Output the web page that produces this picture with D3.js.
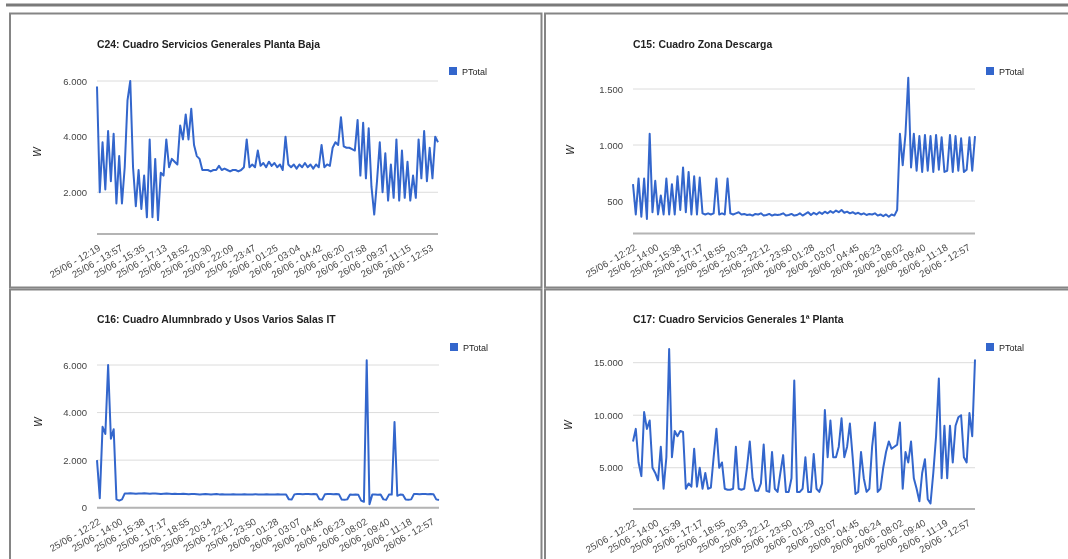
<!DOCTYPE html>
<html>
<head>
<meta charset="utf-8">
<script src="https://cdnjs.cloudflare.com/ajax/libs/d3/7.8.5/d3.min.js"></script>
<style>
body { margin: 0; background: #fff; }
svg { will-change: transform; }
svg text { font-family: "Liberation Sans", Arial, sans-serif; }
</style>
</head>
<body>
<div id="charts"></div>
<script>
// C24 - one point every ~12 min, labels every 8 points
var c24Values = [
  5800, 2000, 3800, 2100, 4200, 2400, 4100, 1600, 3300, 1600,
  2900, 5300, 6000, 2900, 1500, 2800, 1400, 2600, 1100, 3900,
  1100, 3200, 1000, 2700, 2600, 3900, 2900, 3200, 3100, 3000,
  4400, 3900, 4800, 3900, 5000, 3700, 3300, 3200, 2800, 2800,
  2800, 2750, 2800, 2800, 2950, 2800, 2850, 2800, 2750, 2800,
  2800, 2750, 2800, 2900, 3900, 2900, 3000, 2900, 3500, 2950,
  3050, 2900, 3100, 2950, 3050, 2900, 3000, 2800, 4000, 3000,
  2900, 3000, 2850, 3000, 2900, 3050, 2900, 3000, 2850, 3000,
  2900, 3700, 2900, 3000, 2950, 3600, 3800, 3700, 4700, 3650,
  3600, 3600, 3550, 3500, 4600, 2600, 4500, 2500, 4300, 2200,
  1200, 2400, 3800, 2000, 3400, 1700, 3000, 1800, 3900, 1700,
  3500, 1800, 3100, 1700, 2600, 1800, 3900, 2500, 4200, 2400,
  3600, 2500, 4000, 3800
];
var c24Labels = ["25/06 - 12:19","25/06 - 13:57","25/06 - 15:35","25/06 - 17:13","25/06 - 18:52","25/06 - 20:30","25/06 - 22:09","25/06 - 23:47","26/06 - 01:25","26/06 - 03:04","26/06 - 04:42","26/06 - 06:20","26/06 - 07:58","26/06 - 09:37","26/06 - 11:15","26/06 - 12:53"];
var c24Ticks = [2000, 4000, 6000];

// C15
var c15Values = [
  650, 380, 700, 360, 700, 340, 1100, 400, 680, 380,
  550, 380, 700, 380, 650, 380, 720, 420, 800, 400,
  760, 380, 720, 380, 710, 390, 380, 390, 380, 390,
  700, 380, 390, 380, 700, 390, 380, 390, 400, 380,
  385, 375, 380, 370, 385, 380, 390, 370, 375, 385,
  370, 380, 375, 380, 390, 370, 375, 385, 370, 375,
  390, 370, 385, 400, 375, 395, 380, 400, 385, 405,
  390, 410, 395, 415, 400, 420, 395, 405, 390, 400,
  385, 395, 380, 390, 375, 385, 380, 390, 370, 380,
  365, 380, 360, 380, 370, 420, 1100, 820, 1100, 1600,
  800, 1100, 770, 1080, 760, 1090, 770, 1080, 760, 1090,
  780, 1070, 760, 770, 1090, 760, 1080, 770, 1060, 760,
  780, 1070, 770, 1080
];
var c15Labels = ["25/06 - 12:22","25/06 - 14:00","25/06 - 15:38","25/06 - 17:17","25/06 - 18:55","25/06 - 20:33","25/06 - 22:12","25/06 - 23:50","26/06 - 01:28","26/06 - 03:07","26/06 - 04:45","26/06 - 06:23","26/06 - 08:02","26/06 - 09:40","26/06 - 11:18","26/06 - 12:57"];
var c15Ticks = [500, 1000, 1500];

// C16
var c16Values = [
  2000, 400, 3400, 3100, 6000, 2900, 3300, 350, 300, 350,
  600, 600, 610, 600, 590, 600, 600, 610, 600, 590,
  600, 600, 590, 580, 590, 600, 590, 580, 590, 580,
  580, 590, 580, 570, 580, 580, 570, 560, 570, 580,
  570, 560, 570, 580, 560, 570, 560, 550, 560, 570,
  560, 550, 560, 570, 560, 550, 560, 570, 560, 550,
  560, 570, 560, 550, 560, 570, 560, 560, 550, 350,
  340, 560, 580, 580, 570, 580, 580, 570, 580, 570,
  350, 340, 570, 580, 580, 570, 580, 570, 340, 330,
  350, 550, 540, 550, 540, 300, 250, 6200, 150, 550,
  550, 540, 550, 350, 330, 550, 550, 3600, 500, 550,
  540, 340, 330, 350, 580, 580, 570, 580, 580, 570,
  580, 570, 350, 320
];
var c16Labels = ["25/06 - 12:22","25/06 - 14:00","25/06 - 15:38","25/06 - 17:17","25/06 - 18:55","25/06 - 20:34","25/06 - 22:12","25/06 - 23:50","26/06 - 01:28","26/06 - 03:07","26/06 - 04:45","26/06 - 06:23","26/06 - 08:02","26/06 - 09:40","26/06 - 11:18","26/06 - 12:57"];
var c16Ticks = [0, 2000, 4000, 6000];

// C17
var c17Values = [
  7500, 8700, 5500, 4200, 10300, 8700, 9500, 5000, 4500, 3800,
  7000, 3000, 6000, 16300, 6000, 8500, 8000, 8500, 8400, 3000,
  3500, 3200, 6800, 3200, 5000, 3000, 4500, 3000, 3100, 6000,
  8700, 5000, 5500, 3000, 2900, 2900, 3000, 7000, 3000, 2900,
  3000, 5000, 7500, 4000, 2800, 2800, 3500, 7200, 2800, 2700,
  6500, 3000, 2700, 4500, 6200, 2700, 2700, 4000, 13300, 2700,
  2700, 3000, 6000, 2700, 2700, 6300, 3000, 2700, 3500, 10500,
  6000, 9500, 6000, 6000, 7000, 9700, 6000, 7000, 9200, 6000,
  2500, 2700, 6500, 4000, 2700, 3000, 7000, 9300, 2700, 3000,
  5000, 6500, 7500, 6800, 7000, 7200, 9300, 3000, 6500, 5500,
  7500, 4000, 3000, 1800, 4500, 5800, 2000, 1600, 4500, 8000,
  13500, 4000, 9000, 4000, 9000, 5500, 9000, 9800, 10000, 6000,
  5500, 10200, 8000, 15300
];
var c17Labels = ["25/06 - 12:22","25/06 - 14:00","25/06 - 15:39","25/06 - 17:17","25/06 - 18:55","25/06 - 20:33","25/06 - 22:12","25/06 - 23:50","26/06 - 01:29","26/06 - 03:07","26/06 - 04:45","26/06 - 06:24","26/06 - 08:02","26/06 - 09:40","26/06 - 11:19","26/06 - 12:57"];
var c17Ticks = [5000, 10000, 15000];

var labelStep = 8;
var lineColor = "#3366cc";

var es = d3.formatLocale({decimal: ",", thousands: ".", grouping: [3], currency: ["", "€"]});
var fmt = es.format(",d");

var svg = d3.select("#charts")
  .append("svg")
    .attr("width", 1068)
    .attr("height", 559);

// page frame
svg.append("line")
  .attr("x1", 6).attr("x2", 1068)
  .attr("y1", 5).attr("y2", 5)
  .attr("stroke", "#7a7a7a")
  .attr("stroke-width", 3);

var frames = [
  {x: 10, y: 13.5, w: 531.5, h: 274},
  {x: 545, y: 13.5, w: 540, h: 274},
  {x: 10, y: 289.5, w: 531.5, h: 300},
  {x: 545, y: 289.5, w: 540, h: 300}
];
svg.selectAll(".frame")
  .data(frames)
  .enter().append("rect")
    .attr("x", function(d) { return d.x })
    .attr("y", function(d) { return d.y })
    .attr("width", function(d) { return d.w })
    .attr("height", function(d) { return d.h })
    .attr("fill", "none")
    .attr("stroke", "#858585")
    .attr("stroke-width", 2);

var drawPanel = function(p) {
  var g = svg.append("g");

  var x = d3.scaleLinear()
    .domain([0, p.values.length - 1])
    .range([p.left, p.right]);
  var y = d3.scaleLinear()
    .domain(p.domain)
    .range([p.bottom, p.top]);

  // gridlines
  g.selectAll(".grid")
    .data(p.ticks)
    .enter().append("line")
      .attr("x1", p.left).attr("x2", p.right)
      .attr("y1", function(d) { return y(d) })
      .attr("y2", function(d) { return y(d) })
      .attr("stroke", "#dcdcdc")
      .attr("stroke-width", 1);

  // baseline
  g.append("line")
    .attr("x1", p.left).attr("x2", p.right)
    .attr("y1", y(p.domain[0])).attr("y2", y(p.domain[0]))
    .attr("stroke", "#b4b4b4")
    .attr("stroke-width", 2);

  // y axis labels
  var yAxis = g.append("g")
    .attr("transform", "translate(" + p.left + ",0)")
    .call(d3.axisLeft(y).tickValues(p.ticks).tickSize(0).tickPadding(10).tickFormat(fmt));
  yAxis.select(".domain").remove();
  yAxis.selectAll("text")
    .attr("fill", "#444")
    .style("font-size", "9.5px");

  // x axis labels, rotated
  var idx = p.labels.map(function(d, i) { return i * labelStep });
  var xAxis = g.append("g")
    .attr("transform", "translate(0," + y(p.domain[0]) + ")")
    .call(d3.axisBottom(x).tickValues(idx).tickSize(0)
      .tickFormat(function(d) { return p.labels[d / labelStep] }));
  xAxis.select(".domain").remove();
  xAxis.selectAll("text")
    .attr("x", 0).attr("y", 0).attr("dy", "0.35em")
    .attr("transform", "translate(2,13) rotate(-30)")
    .style("text-anchor", "end")
    .style("font-size", "9.6px")
    .attr("fill", "#484848");

  // the series
  g.append("path")
    .datum(p.values)
    .attr("fill", "none")
    .attr("stroke", lineColor)
    .attr("stroke-width", 2)
    .attr("stroke-linejoin", "round")
    .attr("d", d3.line()
      .x(function(d, i) { return x(i) })
      .y(function(d) { return y(d) }));

  // title
  g.append("text")
    .attr("x", p.left)
    .attr("y", p.titleY)
    .attr("fill", "#222")
    .style("font-size", "10.4px")
    .style("font-weight", "bold")
    .text(p.title);

  // W axis title
  g.append("text")
    .attr("transform", "translate(" + p.wx + "," + p.wy + ") rotate(-90)")
    .attr("text-anchor", "middle")
    .attr("fill", "#222")
    .style("font-size", "10px")
    .style("font-style", "italic")
    .text("W");

  // legend
  g.append("rect")
    .attr("x", p.right + 11)
    .attr("y", p.legendY)
    .attr("width", 8).attr("height", 8)
    .attr("fill", lineColor);
  g.append("text")
    .attr("x", p.right + 24)
    .attr("y", p.legendY + 7.5)
    .attr("fill", "#222")
    .style("font-size", "9px")
    .text("PTotal");
};

drawPanel({title: "C24: Cuadro Servicios Generales Planta Baja", values: c24Values, labels: c24Labels, ticks: c24Ticks,
  domain: [500, 6000], left: 97, right: 438, top: 81, bottom: 234, titleY: 48, legendY: 67, wx: 41, wy: 152});
drawPanel({title: "C15: Cuadro Zona Descarga", values: c15Values, labels: c15Labels, ticks: c15Ticks,
  domain: [210, 1500], left: 633, right: 975, top: 89, bottom: 233.5, titleY: 48, legendY: 67, wx: 574, wy: 150});
drawPanel({title: "C16: Cuadro Alumnbrado y Usos Varios Salas IT", values: c16Values, labels: c16Labels, ticks: c16Ticks,
  domain: [0, 6000], left: 97, right: 439, top: 365, bottom: 507.7, titleY: 323, legendY: 343, wx: 42, wy: 422});
drawPanel({title: "C17: Cuadro Servicios Generales 1ª Planta", values: c17Values, labels: c17Labels, ticks: c17Ticks,
  domain: [1070, 15000], left: 633, right: 975, top: 362.7, bottom: 509, titleY: 323, legendY: 343, wx: 572, wy: 425});
</script>
</body>
</html>
